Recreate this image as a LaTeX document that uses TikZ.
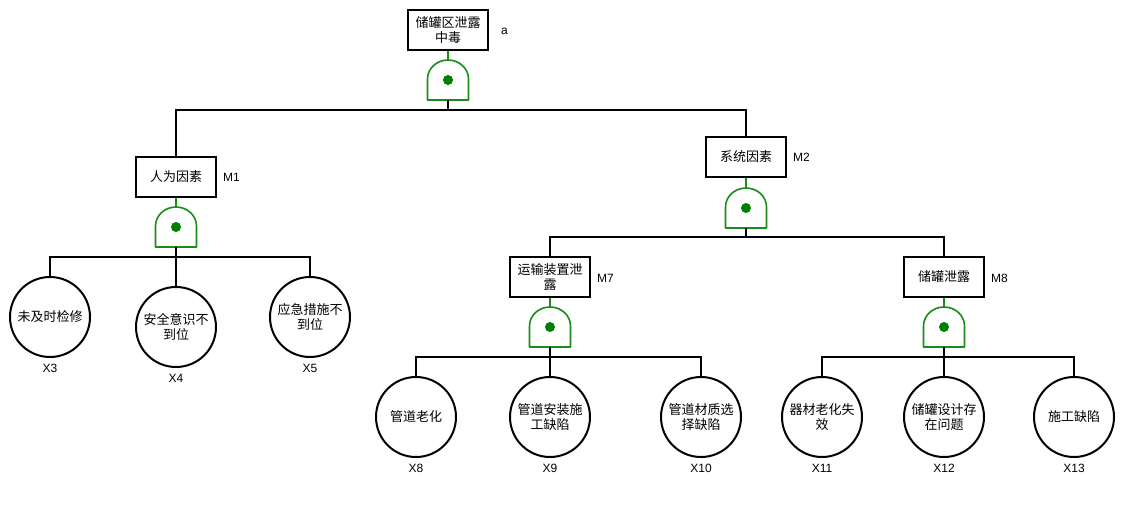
\documentclass[tikz,border=0pt]{standalone}
\usepackage{fontspec}
\newfontfamily\cjkf{Noto Sans CJK SC}
\newfontfamily\latf{Liberation Sans}
\definecolor{gatecol}{RGB}{25,140,25}
\definecolor{dotcol}{RGB}{0,128,0}
\usetikzlibrary{calc}
\tikzset{
  evbox/.style={draw=black,line width=2pt,minimum width=80pt,minimum height=40pt,inner sep=1pt,align=center,font=\cjkf\fontsize{13}{14.5}\selectfont},
  basic/.style={draw=black,line width=2pt,circle,minimum size=80pt,inner sep=0pt,align=center,font=\cjkf\fontsize{13}{14.5}\selectfont},
  tag/.style={inner sep=0pt,font=\latf\fontsize{12}{13}\selectfont},
  conn/.style={draw=black,line width=2pt},
  gconn/.style={draw=gatecol,line width=1.8pt},
  gatestyle/.style={draw=gatecol,line width=1.6pt,line join=round},
}
\newcommand\andgate[3]{%
  \coordinate (#1t) at (#2,#3);
  \coordinate (#1b) at (#2,#3+40);
  \draw[gatestyle] ($(#1b)+(-20.5,0)$) -- ++(0,-21) arc[start angle=180,end angle=360,x radius=20.5,y radius=19] -- ($(#1b)+(20.5,0)$) -- cycle;
  \fill[dotcol] (#2,#3+20) circle[radius=5];
}
\begin{document}
\begin{tikzpicture}[x=1pt,y=-1pt]
\useasboundingbox (0,0) rectangle (1124,517);
% events
\node[evbox] (top) at (448,30) {储罐区泄露\\中毒};
\node[evbox] (m1) at (176,177) {人为因素};
\node[evbox] (m2) at (746,157) {系统因素};
\node[evbox] (m7) at (550,277) {运输装置泄\\露};
\node[evbox] (m8) at (944,277) {储罐泄露};
% tags
\node[tag,anchor=west] (ta) at ($(top.east)+(12,1)$) {a};
\node[tag,anchor=west] (tm1) at ($(m1.east)+(6,0)$) {M1};
\node[tag,anchor=west] (tm2) at ($(m2.east)+(6,0)$) {M2};
\node[tag,anchor=west] (tm7) at ($(m7.east)+(6,1)$) {M7};
\node[tag,anchor=west] (tm8) at ($(m8.east)+(6,1)$) {M8};
% basic events
\node[basic] (x3) at (50,317) {未及时检修};
\node[basic] (x4) at (176,327) {安全意识不\\到位};
\node[basic] (x5) at (310,317) {应急措施不\\到位};
\node[basic] (x8) at (416,417) {管道老化};
\node[basic] (x9) at (550,417) {管道安装施\\工缺陷};
\node[basic] (x10) at (701,417) {管道材质选\\择缺陷};
\node[basic] (x11) at (822,417) {器材老化失\\效};
\node[basic] (x12) at (944,417) {储罐设计存\\在问题};
\node[basic] (x13) at (1074,417) {施工缺陷};
\foreach \n/\t in {x3/X3,x4/X4,x5/X5,x8/X8,x9/X9,x10/X10,x11/X11,x12/X12,x13/X13}{
  \node[tag] (l\n) at ($(\n.south)+(0,10)$) {\t};
}
% gates
\andgate{g0}{448}{60}
\andgate{g1}{176}{207}
\andgate{g2}{746}{188}
\andgate{g7}{550}{307}
\andgate{g8}{944}{307}
% bus coordinates
\coordinate (b0) at (448,110);
\coordinate (b1) at (176,257);
\coordinate (b2) at (746,237);
\coordinate (b7) at (550,357);
\coordinate (b8) at (944,357);
% connectors
\draw[gconn] (top.south) -- (g0t);
\draw[gconn] (m1.south) -- (g1t);
\draw[gconn] (m2.south) -- (g2t);
\draw[gconn] (m7.south) -- (g7t);
\draw[gconn] (m8.south) -- (g8t);
\draw[conn] (g0b) -- (b0);
\draw[conn] (m1.north) |- (b0) -| (m2.north);
\draw[conn] (g1b) -- (b1) -- (x4.north);
\draw[conn] (x3.north) |- (b1) -| (x5.north);
\draw[conn] (g2b) -- (b2);
\draw[conn] (m7.north) |- (b2) -| (m8.north);
\draw[conn] (g7b) -- (b7) -- (x9.north);
\draw[conn] (x8.north) |- (b7) -| (x10.north);
\draw[conn] (g8b) -- (b8) -- (x12.north);
\draw[conn] (x11.north) |- (b8) -| (x13.north);
\end{tikzpicture}
\end{document}
